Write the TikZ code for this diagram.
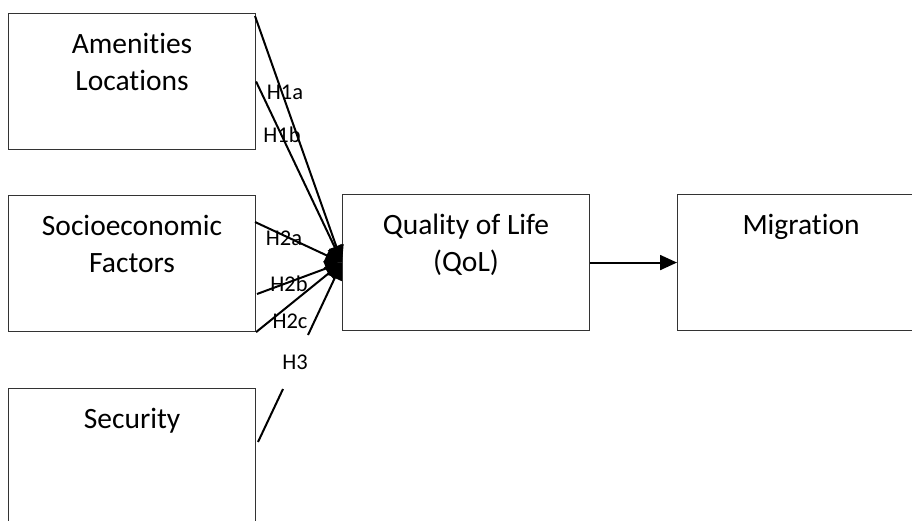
\documentclass[tikz,border=0pt]{standalone}
\usepackage{fontspec}
\setmainfont[RawFeature=-liga]{Carlito}
\usetikzlibrary{arrows.meta}
\begin{document}
\begin{tikzpicture}[x=1pt,y=-1pt,
  box/.style={draw=black!80,line width=1.1pt,minimum width=247pt,minimum height=136pt,inner sep=0pt,anchor=north west},
  boxtext/.style={anchor=north,inner sep=0pt,align=center,font=\fontsize{29.5}{37}\selectfont},
  hlabel/.style={inner sep=0pt,font=\fontsize{22.5}{26}\selectfont},
  link/.style={line width=2pt,-{Triangle[length=17pt,width=15pt]}},
  plainlink/.style={line width=2pt},
  mainarrow/.style={line width=2pt,-{Triangle[length=17pt,width=15pt]}}]
\useasboundingbox (0,0) rectangle (912,520);
\clip (0,0) rectangle (912,520);
% boxes
\node[box] (A) at (8,13) {};
\node[box] (S) at (8,195) {};
\node[box] (Sec) at (8,388) {};
\node[box] (Q) at (342,194) {};
\node[box] (M) at (677,194) {};
% box texts
\node[boxtext] (At) at ([yshift=-20pt]A.north) {Amenities\\Locations};
\node[boxtext] (St) at ([yshift=-20pt]S.north) {Socioeconomic\\Factors};
\node[boxtext] (Sect) at ([yshift=-20pt]Sec.north) {Security};
\node[boxtext] (Qt) at ([yshift=-20pt]Q.north) {Quality of Life\\(QoL)};
\node[boxtext] (Mt) at ([yshift=-20pt]M.north) {Migration};
% start points
\coordinate (h1a) at (255,16);
\coordinate (h2a) at (255,222);
\coordinate (h2b) at (257,294);
\coordinate (h3s) at (258,442);
\coordinate (h3m) at (283,389);
\coordinate (h3n) at (308,335);
% connectors
\draw[link] (h1a) -- (Q.west);
\draw[link] (A.east) -- (Q.west);
\draw[link] (h2a) -- (Q.west);
\draw[link] (h2b) -- (Q.west);
\draw[link] (S.south east) -- (Q.west);
\draw[plainlink] (h3s) -- (h3m);
\draw[link] (h3n) -- (Q.west);
\draw[mainarrow] (Q.east) -- (M.west);
% labels
\node[hlabel] (L1a) at (285,92) {H1a};
\node[hlabel] (L1b) at (282,135) {H1b};
\node[hlabel] (L2a) at (284,238) {H2a};
\node[hlabel] (L2b) at (289,284) {H2b};
\node[hlabel] (L2c) at (290,321) {H2c};
\node[hlabel] (L3) at (295,362) {H3};
\end{tikzpicture}
\end{document}
